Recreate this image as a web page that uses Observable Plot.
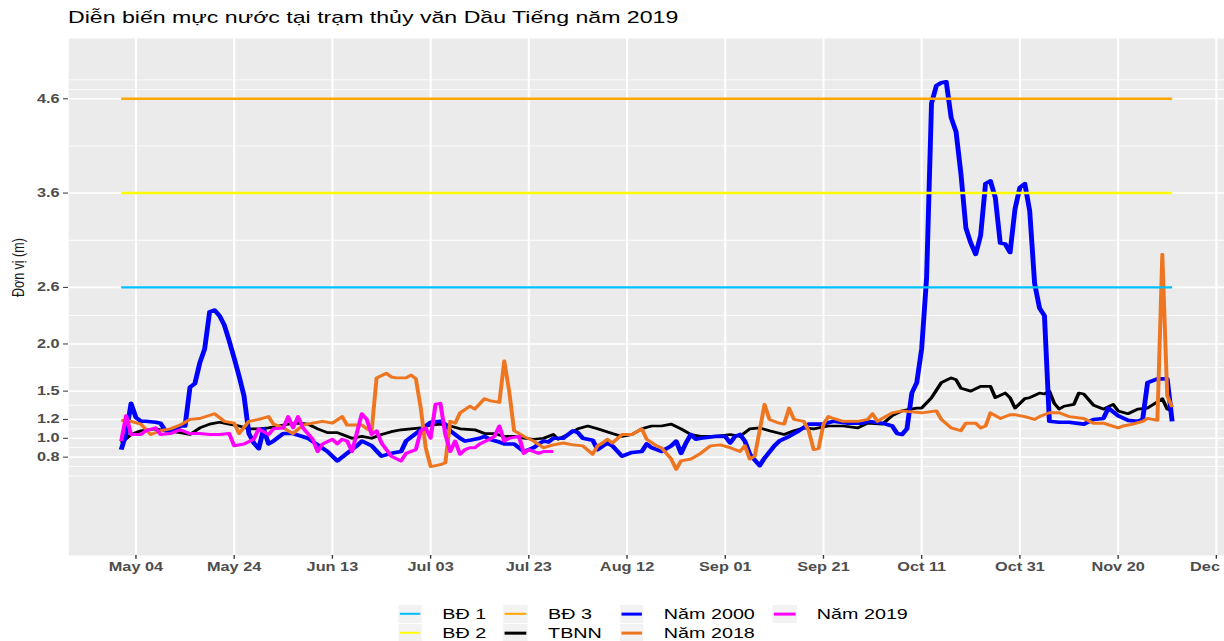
<!DOCTYPE html>
<html><head><meta charset="utf-8">
<script src="https://cdn.jsdelivr.net/npm/d3@7"></script>
<script src="https://cdn.jsdelivr.net/npm/@observablehq/plot@0.6"></script>
<style>
html,body{margin:0;padding:0;background:#fff;overflow:hidden;width:1224px;height:641px}
#wrap{position:relative;width:900px;height:641px;transform:scaleX(1.36);transform-origin:0 0;font-family:"Liberation Sans",Arial,sans-serif;}
#title{position:absolute;left:50px;top:8px;font-size:17px;line-height:20px;color:#000;white-space:nowrap}
#chart{position:absolute;left:0;top:38px}
#legend{position:absolute;left:292.6px;top:604.5px;display:flex;gap:13px}
.col{display:flex;flex-direction:column}
.item{display:flex;align-items:center;height:19px;font-size:14.5px;color:#000;white-space:nowrap}
.key{width:17.6px;height:17.6px;background:#F2F2F2;margin-right:15px;position:relative;flex:none}
.key span{position:absolute;left:1px;right:1px;top:50%;transform:translateY(-50%)}
</style></head>
<body>
<div id="wrap">
  <div id="title">Diễn biến mực nước tại trạm thủy văn Dầu Tiếng năm 2019</div>
  <div id="chart"></div>
  <div id="legend"></div>
</div>
<script>
// ---------- data ----------
const year = "2019-";
const bdDates = ["05-01", "12-01"];
const bd1Level = 2.6, bd2Level = 3.6, bd3Level = 4.6;

const y2000Dates = ["05-01","05-02","05-03","05-04","05-05","05-06","05-08","05-09","05-10","05-12","05-13","05-14","05-15","05-16","05-17","05-18","05-19","05-20","05-21","05-22","05-23","05-24","05-25","05-26","05-27","05-28","05-29","05-30","05-31",
"06-01","06-03","06-05","06-08","06-10","06-12","06-14","06-16","06-18","06-19","06-21","06-23","06-25","06-27","06-28","06-30",
"07-02","07-03","07-05","07-06","07-07","07-09","07-10","07-11","07-13","07-14","07-15","07-17","07-18","07-20","07-21","07-22","07-24","07-25","07-26","07-27","07-28","07-30",
"08-01","08-02","08-03","08-05","08-06","08-08","08-09","08-11","08-13","08-15","08-16","08-17","08-19","08-21","08-22","08-23","08-24","08-25","08-26","08-27","08-30",
"09-01","09-02","09-03","09-04","09-05","09-06","09-08","09-09","09-11","09-12","09-14","09-16","09-18","09-21","09-23","09-26","09-29","09-30",
"10-03","10-05","10-06","10-07","10-08","10-09","10-10","10-11","10-12","10-13","10-14","10-15","10-16","10-17","10-18","10-19","10-20","10-21","10-22","10-23","10-24","10-25","10-26","10-27","10-28","10-29","10-30","10-31",
"11-01","11-02","11-03","11-04","11-05","11-06","11-08","11-10","11-13","11-15","11-17","11-18","11-20","11-22","11-24","11-25","11-26","11-28","11-30","12-01"];
const y2000Values = [0.88,1.05,1.37,1.22,1.18,1.18,1.17,1.16,1.08,1.08,1.13,1.13,1.54,1.58,1.8,1.95,2.34,2.36,2.3,2.2,2.03,1.85,1.66,1.45,1.05,0.95,0.89,1.1,0.94,
0.97,1.05,1.05,1.0,0.93,0.86,0.76,0.84,0.92,0.97,0.92,0.81,0.84,0.86,0.97,1.05,
1.13,1.17,1.18,1.15,1.08,1.0,0.97,0.98,1.0,1.02,0.99,0.96,0.94,0.94,0.9,0.86,0.9,0.94,0.97,0.96,1.0,1.0,
1.08,1.06,1.0,0.98,0.88,0.95,0.92,0.81,0.85,0.86,0.94,0.9,0.86,0.92,0.97,0.84,0.95,1.04,0.99,1.0,1.02,
1.02,0.95,1.02,1.04,0.97,0.83,0.71,0.79,0.92,0.97,1.02,1.08,1.15,1.15,1.18,1.16,1.16,1.18,
1.16,1.13,1.05,1.04,1.1,1.48,1.59,1.95,2.7,4.55,4.74,4.77,4.78,4.4,4.25,3.8,3.23,3.07,2.95,3.15,3.7,3.73,3.55,3.07,3.06,2.97,3.43,3.66,
3.7,3.41,2.64,2.38,2.3,1.18,1.17,1.17,1.15,1.2,1.21,1.32,1.24,1.19,1.18,1.2,1.59,1.63,1.63,1.18];

const tbnnDates = ["05-01","05-03","05-05","05-08","05-10","05-13","05-15","05-17","05-19","05-21","05-23","05-25","05-27","05-29","05-31",
"06-02","06-04","06-06","06-08","06-10","06-12","06-14","06-15","06-17","06-19","06-21","06-23","06-25","06-27","06-29",
"07-01","07-03","07-05","07-07","07-09","07-12","07-14","07-16","07-18","07-20","07-22","07-24","07-26","07-28","07-29","07-31",
"08-02","08-04","08-06","08-09","08-11","08-13","08-15","08-17","08-19","08-21","08-23","08-25","08-27","08-30",
"09-02","09-04","09-06","09-08","09-10","09-13","09-15","09-17","09-19","09-22","09-25","09-28","09-30",
"10-03","10-05","10-07","10-10","10-11","10-13","10-15","10-17","10-18","10-19","10-21","10-23","10-25","10-26","10-28","10-29","10-30",
"11-01","11-02","11-04","11-05","11-06","11-07","11-08","11-09","11-11","11-12","11-13","11-15","11-17","11-19","11-20","11-22","11-24","11-26","11-29","11-30","12-01"];
const tbnnValues = [0.95,1.04,1.08,1.1,1.08,1.06,1.04,1.11,1.15,1.17,1.15,1.13,1.1,1.1,1.11,
1.13,1.15,1.16,1.15,1.1,1.06,1.06,1.04,1.0,1.02,1.0,1.04,1.07,1.09,1.1,
1.11,1.14,1.15,1.13,1.1,1.09,1.05,1.05,1.02,1.02,1.0,0.99,1.0,1.04,0.99,1.04,
1.1,1.13,1.1,1.05,1.02,1.04,1.1,1.13,1.13,1.15,1.1,1.04,1.02,1.02,
1.04,1.02,1.1,1.11,1.08,1.04,1.08,1.11,1.1,1.13,1.13,1.11,1.16,
1.15,1.24,1.29,1.32,1.32,1.43,1.59,1.64,1.62,1.53,1.5,1.55,1.55,1.43,1.48,1.43,1.32,
1.42,1.43,1.48,1.47,1.5,1.37,1.31,1.34,1.36,1.48,1.47,1.35,1.31,1.36,1.29,1.26,1.31,1.32,1.42,1.31,1.29];

const y2018Dates = ["05-01","05-03","05-05","05-07","05-09","05-11","05-13","05-15","05-17","05-20","05-22","05-24","05-25","05-27","05-29","05-31",
"06-01","06-03","06-05","06-07","06-09","06-11","06-13","06-15","06-16","06-19","06-20","06-21","06-22","06-24","06-25","06-26","06-28","06-29","06-30",
"07-01","07-02","07-03","07-05","07-06","07-07","07-08","07-09","07-11","07-12","07-14","07-15","07-17","07-18","07-19","07-20","07-22","07-24","07-26","07-28","07-30",
"08-01","08-03","08-05","08-06","08-07","08-08","08-09","08-11","08-13","08-15","08-16","08-18","08-19","08-21","08-22","08-23","08-25","08-27","08-29","08-31",
"09-02","09-04","09-05","09-06","09-07","09-08","09-09","09-10","09-12","09-13","09-14","09-15","09-17","09-18","09-19","09-20","09-21","09-22","09-23","09-25","09-28","09-30",
"10-01","10-02","10-03","10-05","10-07","10-09","10-11","10-14","10-15","10-17","10-19","10-20","10-22","10-23","10-24","10-25","10-27","10-29","10-30",
"11-01","11-03","11-04","11-06","11-08","11-10","11-13","11-15","11-17","11-20","11-21","11-23","11-25","11-26","11-28","11-29","11-30","12-01"];
const y2018Values = [1.19,1.18,1.15,1.04,1.08,1.1,1.14,1.2,1.21,1.26,1.18,1.16,1.05,1.18,1.2,1.23,
1.15,1.11,1.05,1.14,1.16,1.18,1.16,1.23,1.14,1.14,1.1,1.08,1.64,1.69,1.65,1.64,1.64,1.67,1.63,
1.32,0.9,0.7,0.72,0.74,1.18,1.16,1.27,1.34,1.31,1.42,1.4,1.38,1.82,1.5,1.08,1.02,0.97,0.9,0.93,0.95,
0.93,0.92,0.83,0.92,0.95,0.99,0.95,1.04,1.04,1.1,0.99,0.92,0.9,0.78,0.67,0.76,0.78,0.84,0.92,0.93,
0.9,0.86,0.92,0.78,0.81,1.08,1.36,1.2,1.16,1.15,1.32,1.2,1.18,1.08,0.88,0.89,1.15,1.23,1.21,1.18,1.18,1.2,
1.26,1.18,1.21,1.27,1.29,1.28,1.27,1.29,1.2,1.11,1.08,1.16,1.16,1.11,1.13,1.27,1.21,1.25,1.25,
1.23,1.2,1.23,1.27,1.27,1.23,1.21,1.16,1.16,1.11,1.13,1.15,1.18,1.21,1.19,2.95,1.45,1.33];

const y2019Dates = ["05-01","05-02","05-03","05-05","05-06","05-08","05-09","05-11","05-13","05-15","05-17","05-19","05-21","05-23","05-24","05-26","05-28","05-29","05-31",
"06-01","06-03","06-04","06-05","06-06","06-07","06-09","06-10","06-11","06-13","06-14","06-15","06-16","06-17","06-19","06-20","06-21","06-22","06-23","06-25","06-27","06-28","06-30",
"07-01","07-02","07-03","07-04","07-05","07-06","07-07","07-08","07-09","07-10","07-11","07-12","07-13","07-15","07-16","07-17","07-18","07-19","07-21","07-22","07-23","07-25","07-26","07-28"];
const y2019Values = [0.97,1.24,1.04,1.04,1.08,1.11,1.04,1.05,1.09,1.05,1.05,1.04,1.04,1.05,0.92,0.94,0.99,1.1,1.04,
1.1,1.11,1.23,1.11,1.23,1.11,0.99,0.86,0.94,0.99,0.94,0.99,0.97,0.86,1.26,1.2,1.04,1.08,0.95,0.81,0.76,0.84,0.88,
1.08,1.11,1.0,1.36,1.37,1.04,0.86,0.97,0.83,0.88,0.9,0.9,0.94,0.99,1.02,1.13,0.97,1.0,1.02,0.84,0.88,0.84,0.86,0.86];

const xTickDates = ["05-04","05-24","06-13","07-03","07-23","08-12","09-01","09-21","10-11","10-31","11-20","12-10"];
const yTicks = [0.8, 1.0, 1.2, 1.5, 2.0, 2.6, 3.6, 4.6];
const yMinor = [0.6, 0.7, 0.9, 1.1, 1.35, 1.75, 2.3, 3.1, 4.1, 4.7, 4.8];

const seriesNames = ["BĐ 1", "BĐ 2", "BĐ 3", "TBNN", "Năm 2000", "Năm 2018", "Năm 2019"];
const seriesColors = ["#00BFFF", "#FFFF00", "#FFA500", "#000000", "#0000FF", "#EE7621", "#FF00FF"];
const seriesWidths = [2.4, 2.4, 2.4, 2.7, 3.6, 2.9, 3.0];

// ---------- build ----------
const parse = d3.utcParse("%Y-%m-%d");
const toRows = (dates, values) => dates.map((d, i) => ({date: parse(year + d), value: values[i]}));
const bd1 = toRows(bdDates, [bd1Level, bd1Level]);
const bd2 = toRows(bdDates, [bd2Level, bd2Level]);
const bd3 = toRows(bdDates, [bd3Level, bd3Level]);
const tbnn = toRows(tbnnDates, tbnnValues);
const s2000 = toRows(y2000Dates, y2000Values);
const s2018 = toRows(y2018Dates, y2018Values);
const s2019 = toRows(y2019Dates, y2019Values);
const xTicks = xTickDates.map(d => parse(year + d));

const first = parse(year + bdDates[0]), last = parse(year + bdDates[1]);
const pad = (last - first) * 0.05;
const xDomain = [new Date(+first - pad), new Date(+last + pad)];

const col = n => seriesColors[seriesNames.indexOf(n)];
const wid = n => seriesWidths[seriesNames.indexOf(n)];
const lineOf = (data, n) => Plot.line(data, {x: "date", y: "value", stroke: col(n), strokeWidth: wid(n), strokeLinejoin: "round", strokeLinecap: "butt"});

const font = "'Liberation Sans', Arial, sans-serif";
const chart = Plot.plot({
  width: 900, height: 554,
  marginTop: 0, marginRight: 0, marginBottom: 37, marginLeft: 50,
  style: {background: "transparent", fontFamily: font, overflow: "visible"},
  x: {type: "utc", domain: xDomain, label: null},
  y: {domain: [-0.243, 5.239], label: null},
  marks: [
    Plot.frame({fill: "#EBEBEB", stroke: "none"}),
    Plot.ruleY(yMinor, {stroke: "#FFFFFF", strokeWidth: 0.8}),
    Plot.ruleY(yTicks, {stroke: "#FFFFFF", strokeWidth: 1.6}),
    Plot.ruleX(xTicks, {stroke: "#FFFFFF", strokeWidth: 1.5}),
    lineOf(tbnn, "TBNN"),
    lineOf(s2000, "Năm 2000"),
    lineOf(s2018, "Năm 2018"),
    lineOf(s2019, "Năm 2019"),
    lineOf(bd1, "BĐ 1"),
    lineOf(bd2, "BĐ 2"),
    lineOf(bd3, "BĐ 3"),
    Plot.axisX(xTicks, {tickFormat: d3.utcFormat("%b %d"), tickSize: 3.67, tickPadding: 2.93, fontSize: 12, fontWeight: "bold", fill: "#4D4D4D", stroke: "#333333", label: null}),
    Plot.axisY(yTicks, {tickFormat: d3.format(".1f"), tickSize: 3.67, tickPadding: 2.93, fontSize: 12, fontWeight: "bold", fill: "#4D4D4D", stroke: "#333333", label: null}),
    Plot.text(["Đơn vị (m)"], {text: d => d, frameAnchor: "left", dx: -36.8, rotate: -90, fontSize: 12.5, fill: "#1A1A1A"})
  ]
});
document.getElementById("chart").appendChild(chart);

// ---------- legend (2 rows, filled by column) ----------
const legend = document.getElementById("legend");
for (let c = 0; c < Math.ceil(seriesNames.length / 2); c++) {
  const column = document.createElement("div");
  column.className = "col";
  for (let r = 0; r < 2; r++) {
    const i = c * 2 + r;
    if (i >= seriesNames.length) break;
    const item = document.createElement("div");
    item.className = "item";
    const key = document.createElement("div");
    key.className = "key";
    const ln = document.createElement("span");
    ln.style.height = Math.min(seriesWidths[i], 2.8) + "px";
    ln.style.background = seriesColors[i];
    key.appendChild(ln);
    const lab = document.createElement("span");
    lab.textContent = seriesNames[i];
    item.appendChild(key);
    item.appendChild(lab);
    column.appendChild(item);
  }
  legend.appendChild(column);
}
</script>
</body></html>
